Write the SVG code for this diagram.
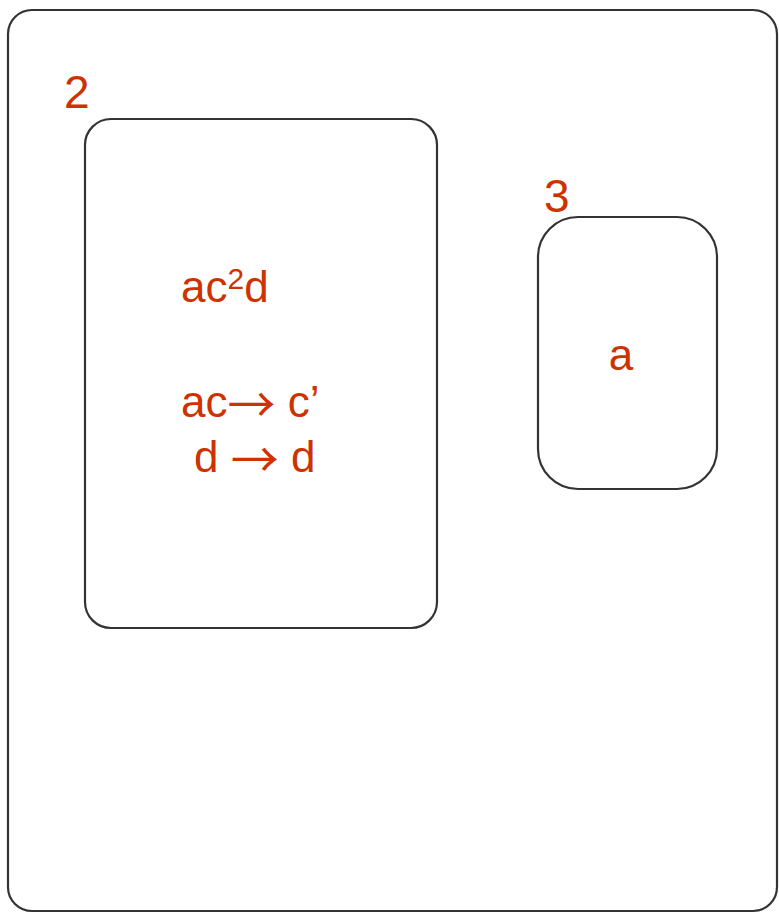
<svg xmlns="http://www.w3.org/2000/svg" width="779" height="916" viewBox="0 0 779 916">
<style>
.box{fill:#fff;stroke:#333;stroke-width:2.2}
.t{fill:#cc3300;font-family:"Liberation Sans",Arial,sans-serif}
.lbl{font-size:46px}
.body{font-size:44px}
.arr{font-family:"Noto Sans CJK JP","Noto Sans CJK SC",sans-serif;font-size:48px}
</style>
<rect width="779" height="916" fill="#fff"/>
<g id="outer"><rect class="box" x="8" y="10" width="769" height="901" rx="24"/></g>
<g id="node2">
<rect class="box" x="85" y="119" width="352" height="509" rx="26"/>
<text class="t lbl" x="64" y="108">2</text>
<text class="t body" x="181" y="302">ac<tspan font-size="30" dy="-13">2</tspan><tspan dy="13">d</tspan></text>
<text class="t body" x="181" y="417">ac<tspan class="arr" dy="5">→</tspan><tspan dy="-5"> c’</tspan></text>
<text class="t body" x="194" y="472">d <tspan class="arr" dy="5">→</tspan><tspan dy="-5"> d</tspan></text>
</g>
<g id="node3">
<rect class="box" x="538" y="217" width="179" height="272" rx="40"/>
<text class="t lbl" x="544" y="212">3</text>
<text class="t body" x="621" y="370" text-anchor="middle">a</text>
</g>
<g id="connectors"/>
</svg>
